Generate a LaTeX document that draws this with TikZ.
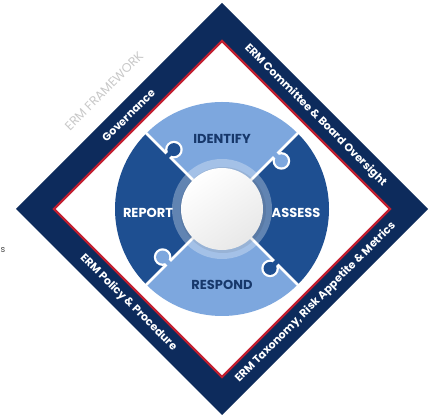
\documentclass[tikz,border=0pt]{standalone}
\usepackage{fontspec}
\setmainfont{Poppins}
\definecolor{frameNavy}{HTML}{0D2B5C}
\definecolor{frameRed}{HTML}{C21F30}
\definecolor{pieceLight}{HTML}{7DA7DE}
\definecolor{pieceDark}{HTML}{1E4F91}
\definecolor{textNavy}{HTML}{17386B}
\definecolor{frameGray}{HTML}{C8C8C8}

\begin{document}
\begin{tikzpicture}[
  x = 1pt, y = 1pt,
  band/.style = {text = white, inner sep = 0pt, font = \bfseries\fontsize{11}{13}\selectfont},
  piece/.style = {inner sep = 0pt, font = \bfseries\fontsize{13}{15}\selectfont},
  divider/.style = {draw = white, line width = 2.5pt}
]
  \useasboundingbox (0,0) rectangle (435,419);

  % frame
  \fill[frameNavy] (222,416) -- (428,210) -- (222,4) -- (16,210) -- cycle;
  \filldraw[fill = white, draw = frameRed, line width = 2.2pt]
    (222,378) -- (390,210) -- (222,42) -- (54,210) -- cycle;

  % puzzle pieces
  \fill[pieceLight] (222,210) -- ++(45:107)  arc (45:135:107)  -- cycle;
  \fill[pieceDark]  (222,210) -- ++(135:107) arc (135:225:107) -- cycle;
  \fill[pieceLight] (222,210) -- ++(225:107) arc (225:315:107) -- cycle;
  \fill[pieceDark]  (222,210) -- ++(315:107) arc (315:405:107) -- cycle;
  \foreach \a in {45,135,225,315}
    \draw[divider] (222,210) -- ++(\a:108);

  % knobs
  \foreach \a/\col in {135/pieceDark, 45/pieceLight, 225/pieceLight, 315/pieceDark} {
    \begin{scope}[shift = {(222,210)}, rotate = \a]
      \fill[white] (76,-8) circle (8.8);
      \fill[white] (72.3,0) rectangle (79.7,-8);
      \fill[\col] (76,-8) circle (6.5);
      \fill[\col] (73.6,2) rectangle (78.4,-8);
    \end{scope}
  }

  % hub
  \fill[white, opacity = 0.3] (222,210) circle (50);
  \fill[black, opacity = 0.07] (223,209) circle (43);
  \shade[top color = white, bottom color = black!9, shading angle = 35] (222,210) circle (41);

  \node[piece, text = textNavy] (identify) at (222,280) {IDENTIFY};
  \node[piece, text = white]    (report)   at (148,206) {REPORT};
  \node[piece, text = white]    (assess)   at (296,206) {ASSESS};
  \node[piece, text = textNavy] (respond)  at (222,134) {RESPOND};

  \node[band, rotate = 45]  (governance) at (128.5,303.5) {Governance};
  \node[band, rotate = -45] (oversight)  at (315.5,303.5) {ERM Committee \& Board Oversight};
  \node[band, rotate = -45] (policy)     at (128.5,116.5) {ERM Policy \& Procedure};
  \node[band, rotate = 45]  (taxonomy)   at (315.5,116.5) {ERM Taxonomy, Risk Appetite \& Metrics};

  \node[rotate = 45, inner sep = 0pt, text = frameGray, font = \fontsize{12.5}{14}\selectfont] (framework) at (104,328) {ERM FRAMEWORK};
  \node[text = black!70, inner sep = 0pt, font = \fontsize{9}{11}\selectfont] (cutoff) at (3,169) {s};
\end{tikzpicture}
\end{document}
